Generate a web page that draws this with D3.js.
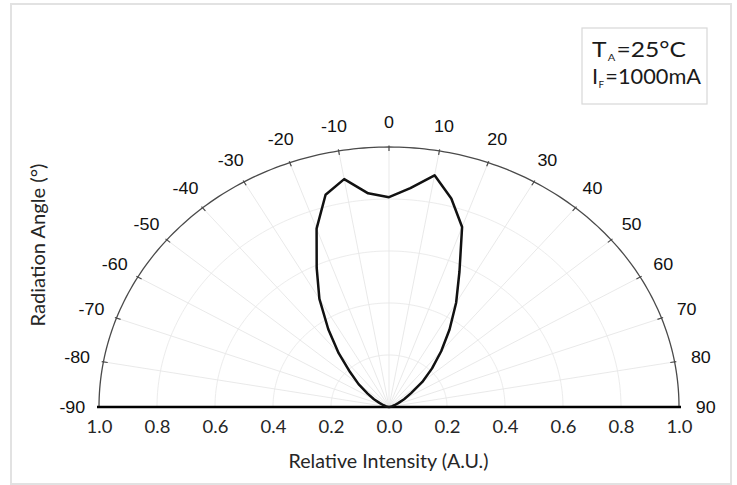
<!DOCTYPE html>
<html>
<head>
<meta charset="utf-8">
<script src="https://cdn.jsdelivr.net/npm/d3@7"></script>
<style>
  html, body { margin: 0; padding: 0; background: #ffffff; }
  svg { display: block; }
</style>
</head>
<body>
<svg id="chart" width="737" height="485"></svg>
<script>
// ---------------- DATA ----------------
const angles = [-90,-85,-80,-75,-70,-65,-60,-55,-50,-45,-40,-35,-30,-25,-20,-15,-10,-5,0,
                5,10,15,20,25,30,35,40,45,50,55,60,65,70,75,80,85,90];
const intensity = [0,0.002,0.005,0.01,0.02,0.035,0.06,0.09,0.137,0.19,0.27,0.365,0.48,0.59,0.73,0.845,0.89,0.825,0.807,
                   0.845,0.905,0.83,0.737,0.575,0.463,0.364,0.28,0.21,0.15,0.093,0.06,0.035,0.02,0.01,0.005,0.002,0];
const angleTicks = [-90,-80,-70,-60,-50,-40,-30,-20,-10,0,10,20,30,40,50,60,70,80,90];
const gridAngles = [-80,-70,-60,-50,-40,-30,-20,-10,0,10,20,30,40,50,60,70,80];
const gridRings = [0.2,0.4,0.6,0.8];
const intensityTicks = [-1,-0.8,-0.6,-0.4,-0.2,0,0.2,0.4,0.6,0.8,1];
const xTitle = "Relative Intensity (A.U.)";
const yTitle = "Radiation Angle (°)";
const legendLines = [["T","A","=25°C"],["I","F","=1000mA"]];

// ---------------- LAYOUT ----------------
const svg = d3.select("#chart");
const cx = 389, cy = 407, rx = 290, ry = 260;
const xScale = d3.scaleLinear().domain([-1, 1]).range([cx - rx, cx + rx]);
const yScale = d3.scaleLinear().domain([0, 1]).range([cy, cy - ry]);
const rad = d => d * Math.PI / 180;
const px = (deg, r) => xScale(r * Math.sin(rad(deg)));
const py = (deg, r) => yScale(r * Math.cos(rad(deg)));
const arcSamples = d3.range(-90, 90.01, 1);
const line = d3.line().x(d => px(d[0], d[1])).y(d => py(d[0], d[1]));
const geoFont = "Lato, 'Open Sans', sans-serif";
const txtCol = "#262626";

// outer frame
svg.append("rect").attr("x", 11).attr("y", 4).attr("width", 720).attr("height", 480)
  .attr("fill", "none").attr("stroke", "#e2e2e2").attr("stroke-width", 2);

// grid rings
svg.append("g").selectAll("path").data(gridRings).join("path")
  .attr("d", r => line(arcSamples.map(a => [a, r])))
  .attr("fill", "none").attr("stroke", "#ececec").attr("stroke-width", 1);

// radial grid
svg.append("g").selectAll("line").data(gridAngles).join("line")
  .attr("x1", a => px(a, 0)).attr("y1", a => py(a, 0))
  .attr("x2", a => px(a, 1)).attr("y2", a => py(a, 1))
  .attr("stroke", "#e6e6e6").attr("stroke-width", 0.9);

// outer arc
svg.append("path").attr("d", line(arcSamples.map(a => [a, 1])))
  .attr("fill", "none").attr("stroke", "#4a4a4a").attr("stroke-width", 1.3);

// arc ticks
svg.append("g").selectAll("line").data(angleTicks.filter(a => Math.abs(a) < 90)).join("line")
  .attr("x1", a => px(a, 0.985)).attr("y1", a => py(a, 0.985))
  .attr("x2", a => px(a, 1.006)).attr("y2", a => py(a, 1.006))
  .attr("stroke", "#4a4a4a").attr("stroke-width", 1.2);

// angle labels
svg.append("g").selectAll("text").data(angleTicks).join("text")
  .attr("transform", a => `translate(${px(a, 1.092)},${py(a, 1.096)}) scale(1.12,1)`)
  .attr("text-anchor", "middle").attr("dy", "0.36em")
  .attr("font-family", "'Liberation Sans', Arial, sans-serif").attr("font-size", 16)
  .attr("fill", "#111")
  .text(a => a);

// bottom axis
const axis = d3.axisBottom(xScale).tickValues(intensityTicks)
  .tickFormat(d => Math.abs(d).toFixed(1)).tickSize(0).tickSizeOuter(0);
const gx = svg.append("g").attr("transform", `translate(0,${cy})`).call(axis);
gx.select(".domain").attr("stroke", "#000").attr("stroke-width", 2.6)
  .attr("d", `M${xScale(-1) - 2},0H${xScale(1) + 2}`);
gx.selectAll(".tick text")
  .attr("y", 26).attr("dy", 0)
  .attr("transform", "scale(1.12,1)")
  .attr("font-family", geoFont).attr("font-size", 16.5)
  .attr("fill", txtCol);

// intensity curve
const pts = angles.map((a, i) => [a, intensity[i]]);
svg.append("path").attr("d", line(pts))
  .attr("fill", "none").attr("stroke", "#111").attr("stroke-width", 2.5)
  .attr("stroke-linejoin", "round");

// fit helper
function fitText(sel, targetW, tx, ty, rot) {
  const w = sel.node().getBBox().width;
  const s = targetW / w;
  sel.attr("transform", `translate(${tx},${ty})${rot ? " rotate(" + rot + ")" : ""} scale(${s},1)`);
  return s;
}

// x title
const xt = svg.append("text").attr("text-anchor", "middle")
  .attr("font-family", geoFont).attr("font-size", 20)
  .attr("fill", txtCol).text(xTitle);
fitText(xt, 200, 388.5, 468);

// y title
const yt = svg.append("text").attr("text-anchor", "middle")
  .attr("font-family", geoFont).attr("font-size", 20)
  .attr("fill", txtCol).text(yTitle);
fitText(yt, 163, 45, 245, -90);

// legend
svg.append("rect").attr("x", 582).attr("y", 28).attr("width", 125).attr("height", 76)
  .attr("fill", "#fff").attr("stroke", "#d8d8d8").attr("stroke-width", 1.2);
const legendY = [57.5, 84.5];
const legendW = [94, 110];
legendLines.forEach((parts, i) => {
  const g = svg.append("g");
  const main1 = g.append("text").attr("x", 592).attr("y", legendY[i])
    .attr("font-family", geoFont).attr("font-size", 21).attr("fill", "#1a1a1a")
    .text(parts[0]);
  const w1 = main1.node().getBBox().width;
  const sub = g.append("text").attr("x", 592 + w1 + 0.5).attr("y", legendY[i] + 3.5)
    .attr("font-family", geoFont).attr("font-size", 9.5).attr("fill", "#1a1a1a")
    .text(parts[1]);
  const w2 = sub.node().getBBox().width;
  const rest = g.append("text").attr("x", 592 + w1 + w2 + 1).attr("y", legendY[i])
    .attr("font-family", geoFont).attr("font-size", 21).attr("fill", "#1a1a1a")
    .text(parts[2]);
  const total = g.node().getBBox().width;
  const s = legendW[i] / total;
  g.attr("transform", `translate(592,0) scale(${s},1) translate(-592,0)`);
});
</script>
</body>
</html>
